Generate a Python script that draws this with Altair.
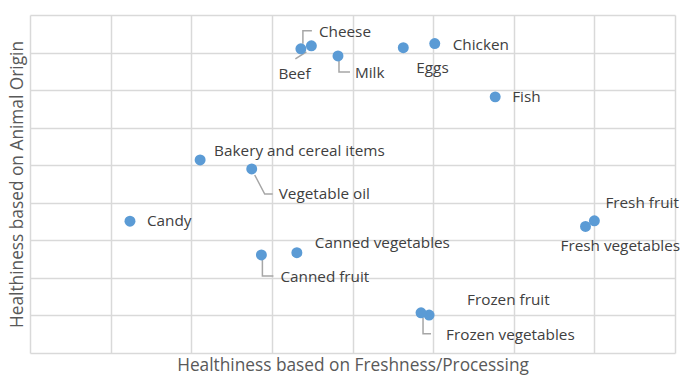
import altair as alt
import pandas as pd

# ---- data ----
foods = ["Cheese", "Beef", "Milk", "Eggs", "Chicken", "Fish",
         "Bakery and cereal items", "Vegetable oil", "Candy",
         "Canned vegetables", "Canned fruit", "Fresh fruit",
         "Fresh vegetables", "Frozen fruit", "Frozen vegetables"]
freshness = [3.36, 3.49, 3.82, 4.63, 5.02, 5.77, 2.11, 2.75, 1.24,
             3.31, 2.87, 7.00, 6.89, 4.95, 4.85]
animal = [8.10, 8.18, 7.91, 8.13, 8.24, 6.82, 5.14, 4.90, 3.51,
          2.67, 2.61, 3.52, 3.37, 1.01, 1.07]

# ---- label placement (pixel offsets from each point) ----
label_dx = [18, -33, 17, 13, 18, 17, 14, 27, 17, 18, 19, 11, -25, 38, 25]
label_dy = [-17, 28, 17, 20, 1, 0, -9, 25, 0, -10, 22, -18, 20, -15, 22]
leaders = {
    "Cheese": [(2, -5), (2, -18), (11, -18)],
    "Beef": [(-5, 6), (-16, 13)],
    "Milk": [(1, 5), (1, 16), (12, 16)],
    "Vegetable oil": [(3, 6), (13, 25), (21, 25)],
    "Canned fruit": [(1, 5), (1, 21), (12, 21)],
    "Frozen vegetables": [(2, 5), (2, 21), (10, 21)],
}

W, H = 645, 338
X_MAX, Y_MAX = 8, 9
PX_X = W / X_MAX
PX_Y = H / Y_MAX

df = pd.DataFrame({"food": foods, "x": freshness, "y": animal})
df["lx"] = [x + dx / PX_X for x, dx in zip(freshness, label_dx)]
df["ly"] = [y - dy / PX_Y for y, dy in zip(animal, label_dy)]

rows = []
for name, pts in leaders.items():
    i = foods.index(name)
    for k, (dx, dy) in enumerate(pts):
        rows.append({"food": name, "k": k,
                     "x": freshness[i] + dx / PX_X,
                     "y": animal[i] - dy / PX_Y})
lead_df = pd.DataFrame(rows)

FONT = "Open Sans"
xscale = alt.Scale(domain=[0, X_MAX], nice=False, zero=False)
yscale = alt.Scale(domain=[0, Y_MAX], nice=False, zero=False)

x_axis = alt.Axis(values=list(range(X_MAX + 1)), labels=False, ticks=False,
                  domain=False, grid=True, gridColor="#d9d9d9", gridWidth=1.5,
                  title="Healthiness based on Freshness/Processing",
                  titleFont=FONT, titleFontSize=17.3, titleFontWeight="normal",
                  titleColor="#595959", titlePadding=3)
y_axis = alt.Axis(values=list(range(Y_MAX + 1)), labels=False, ticks=False,
                  domain=False, grid=True, gridColor="#d9d9d9", gridWidth=1.5,
                  title="Healthiness based on Animal Origin",
                  titleFont=FONT, titleFontSize=17.3, titleFontWeight="normal",
                  titleColor="#595959", titlePadding=4)

lines = alt.Chart(lead_df).mark_line(color="#a6a6a6", strokeWidth=1.5).encode(
    x=alt.X("x:Q", scale=xscale, axis=x_axis),
    y=alt.Y("y:Q", scale=yscale, axis=y_axis),
    detail="food:N",
    order="k:Q",
)

base_pts = alt.Chart(df).mark_circle(size=120, color="#5B9BD5", opacity=1).encode(
    x=alt.X("x:Q", scale=xscale, axis=x_axis),
    y=alt.Y("y:Q", scale=yscale, axis=y_axis),
)

labels = alt.Chart(df).mark_text(align="left", baseline="middle", font=FONT,
                                 fontSize=15.3, color="#404040").encode(
    x=alt.X("lx:Q", scale=xscale, axis=x_axis),
    y=alt.Y("ly:Q", scale=yscale, axis=y_axis),
    text="food:N",
)

chart = alt.layer(lines, base_pts, labels).properties(
    width=W, height=H,
    autosize=alt.AutoSizeParams(type="none"),
    padding={"left": 30, "top": 15, "right": 12, "bottom": 32},
    background="white",
).configure_view(stroke=None)

chart.save("out.html", embed_options={"renderer": "svg", "actions": False})
